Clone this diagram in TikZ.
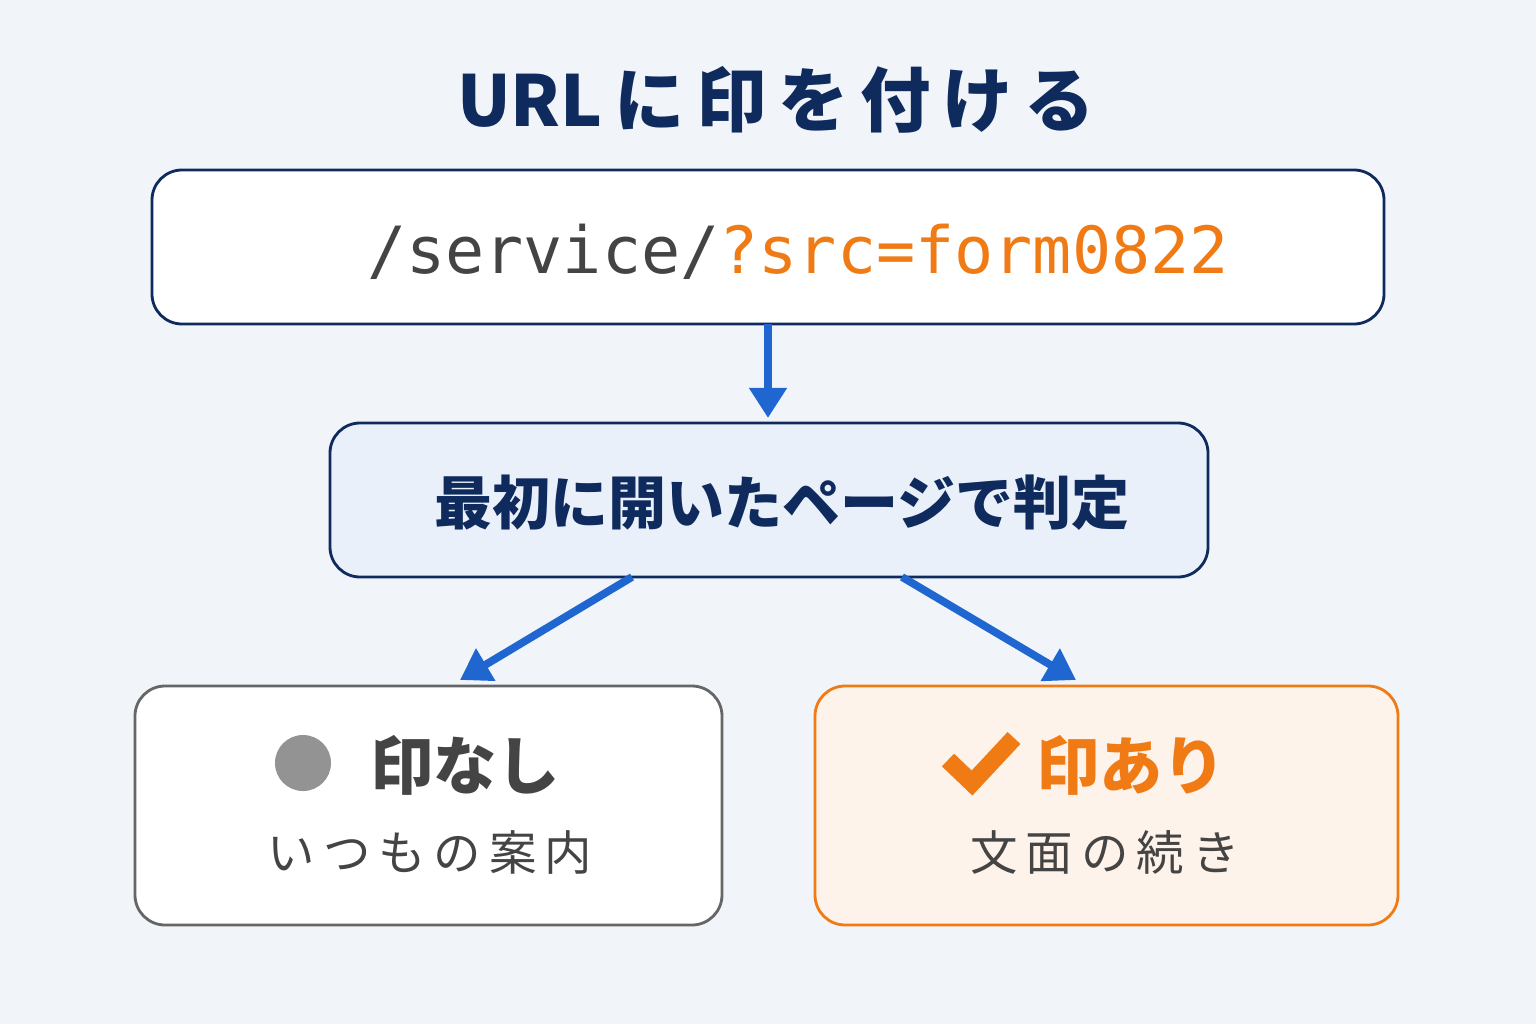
\documentclass[tikz,border=0pt]{standalone}
\usepackage{fontspec}
\setmainfont{Noto Sans CJK JP}
\newfontfamily\cjk{Noto Sans CJK JP}
\newfontfamily\mono{DejaVu Sans Mono}
\usetikzlibrary{arrows.meta}
\definecolor{navy}{HTML}{0F2A5C}
\definecolor{bg}{HTML}{F1F5FA}
\definecolor{org}{HTML}{F07A14}
\definecolor{blu}{HTML}{1F66D0}
\definecolor{gtxt}{HTML}{444444}
\begin{document}
\begin{tikzpicture}[x=0.01cm,y=-0.01cm,
 box/.style={draw, line width=0.8pt, rounded corners=0.3cm, inner sep=0},
 arr/.style={blu, line width=2.2pt, -{Triangle[length=0.3cm,width=0.36cm]}}]
\fill[bg] (0,0) rectangle (1536,1024);
\useasboundingbox (0,0) rectangle (1536,1024);
\node[navy, font=\cjk\bfseries\fontsize{20}{24}\selectfont] (title) at (776,100) {URL\,に\,印\,を\,付\,け\,る};
\draw[box, navy, fill=white] (152,170) rectangle (1384,324);
\node[font=\mono\fontsize{18.5}{22}\selectfont] (url) at (798,252) {\textcolor{gtxt}{/service/}\textcolor{org}{?src=form0822}};
\coordinate (b1) at (768,324);
\coordinate (b2t) at (768,418);
\draw[arr] (b1) -- (b2t);
\draw[box, navy, fill=blu!10] (330,423) rectangle (1208,577);
\node[navy, font=\cjk\bfseries\fontsize{16.5}{20}\selectfont] (judge) at (782,503) {最初に開いたページで判定};
\coordinate (l0) at (632,577); \coordinate (l1) at (460,680);
\coordinate (r0) at (902,577); \coordinate (r1) at (1076,680);
\draw[arr] (l0) -- (l1);
\draw[arr] (r0) -- (r1);
\draw[box, gray!80!black, fill=white] (135,686) rectangle (722,925);
\fill[gray!85] (303,763) circle (0.28cm);
\node[gtxt, font=\cjk\bfseries\fontsize{18}{22}\selectfont] (no) at (465,765) {印なし};
\node[gtxt, font=\cjk\fontsize{13.5}{16}\selectfont] (nod) at (430,852) {い\,つ\,も\,の\,案\,内};
\draw[box, org, fill=org!9] (815,686) rectangle (1398,925);
\draw[org, line width=5pt] (948,760) -- (972,783) -- (1014,738);
\node[org, font=\cjk\bfseries\fontsize{18}{22}\selectfont] (yes) at (1131,765) {印あり};
\node[gtxt, font=\cjk\fontsize{13.5}{16}\selectfont] (yesd) at (1105,852) {文\,面\,の\,続\,き};
\end{tikzpicture}
\end{document}
